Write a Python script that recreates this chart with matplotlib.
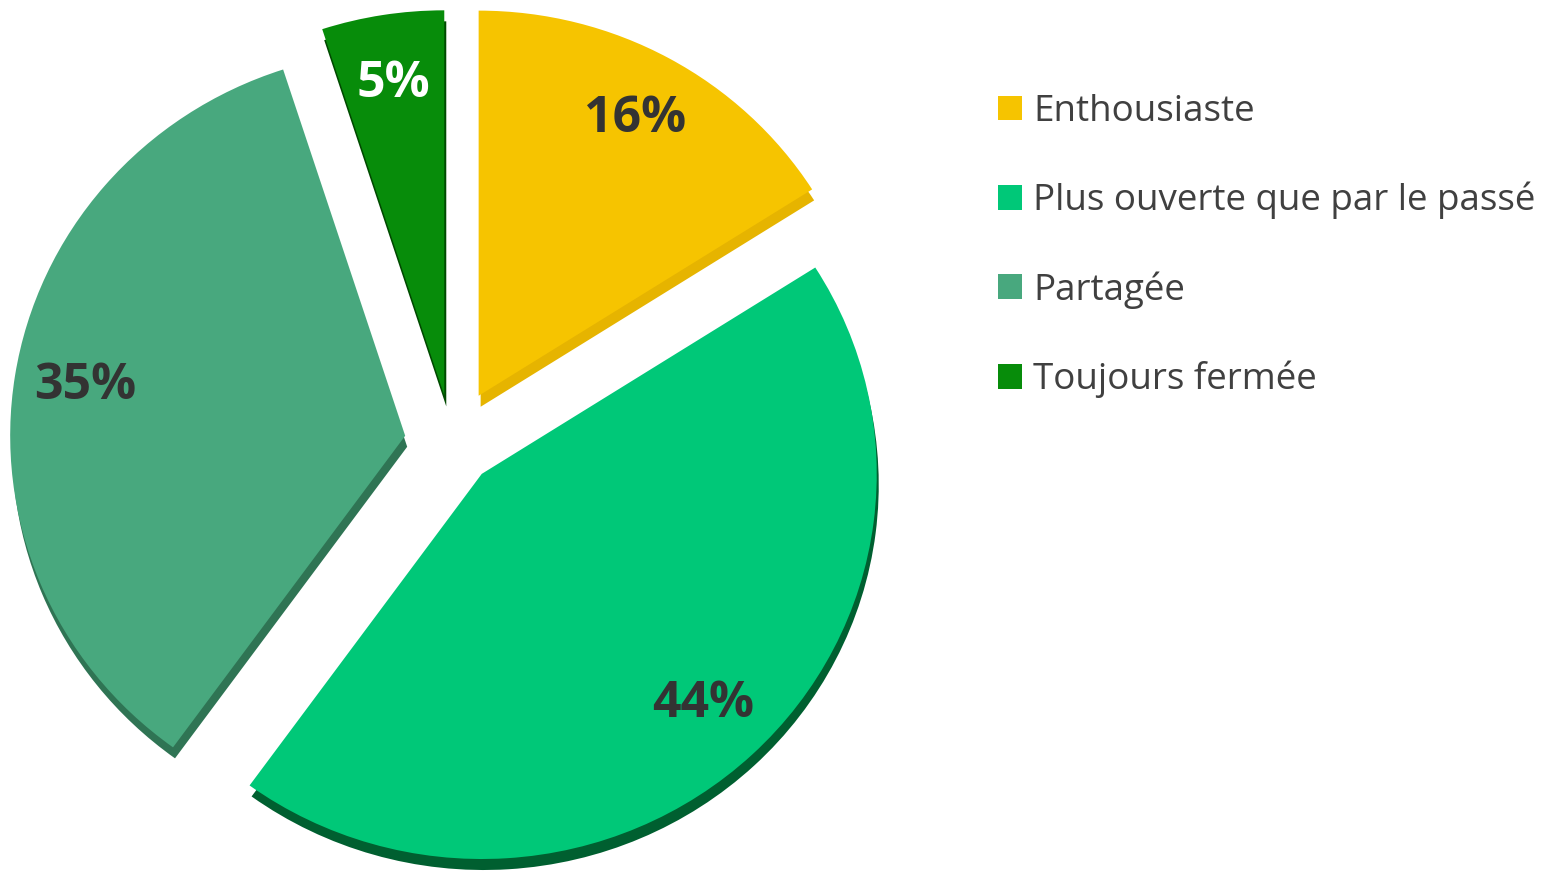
import matplotlib
matplotlib.use("Agg")
import matplotlib.pyplot as plt

plt.rcParams["font.family"] = ["Open Sans", "DejaVu Sans"]

# données
categories = ["Enthousiaste", "Plus ouverte que par le passé", "Partagée", "Toujours fermée"]
values = [16, 44, 35, 5]
colors = ["#F6C400", "#00C878", "#48A87E", "#078C0A"]
shadow_colors = ["#E6B400", "#005F30", "#2F7454", "#004A00"]
label_colors = ["#333333", "#333333", "#333333", "#FFFFFF"]
explode_frac = [0.14, 0.11, 0.12, 0.125]

W, H = 1553, 881
k = 0.975  # léger écrasement vertical (vue 3D)
fig = plt.figure(figsize=(W / 100, H / 100), dpi=100)
ax = fig.add_axes([0, 0, 1, 1])

cx, cy, R = 452, (H - 443) / k, 395
explode = [e * R for e in explode_frac]  # explode de matplotlib en unités absolues

# effet 3D : copie plus sombre décalée vers le bas
ax.pie(values, colors=shadow_colors, explode=explode, startangle=90, counterclock=False,
       center=(cx + 2, cy - 11 / k), radius=R, frame=True,
       wedgeprops=dict(linewidth=0))

wedges, _, autotexts = ax.pie(values, colors=colors, explode=explode, startangle=90,
                              counterclock=False, center=(cx, cy), radius=R, frame=True,
                              autopct="%1.0f%%", pctdistance=0.82,
                              wedgeprops=dict(linewidth=0),
                              textprops=dict(fontsize=36, fontweight="bold"))
ax.set_aspect("auto")
ax.set_xlim(0, W)
ax.set_ylim(0, H / k)
ax.axis("off")
for t, c in zip(autotexts, label_colors):
    t.set_color(c)

leg = fig.legend(wedges, categories, loc="upper left", bbox_to_anchor=(998 / W, 1 - 94 / H),
                 frameon=False, fontsize=26.5, handlelength=0.66, handleheight=0.66,
                 handletextpad=0.3, labelspacing=1.41, borderaxespad=0, borderpad=0)
for t in leg.get_texts():
    t.set_color("#404040")

fig.savefig("out.png", dpi=100, facecolor="white")
